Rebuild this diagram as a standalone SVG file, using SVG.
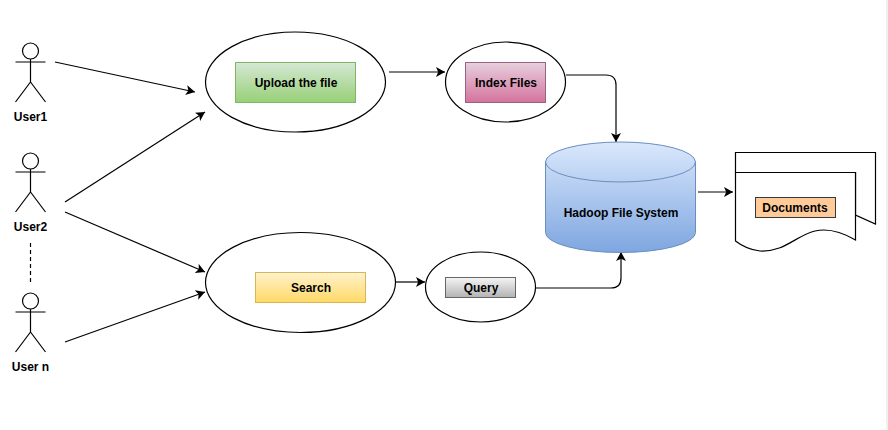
<svg xmlns="http://www.w3.org/2000/svg" width="888" height="430" viewBox="0 0 888 430">
<style>
text{font-family:"Liberation Sans",Arial,sans-serif;font-size:12px;font-weight:bold;fill:#000;text-anchor:middle;stroke:none}
.o{fill:#fff;stroke:#000;stroke-width:1.2}
.a{fill:none;stroke:#000;stroke-width:1.2;marker-end:url(#ah)}
.l{fill:none;stroke:#000;stroke-width:1.2}
</style>
<defs>
<marker id="ah" markerUnits="userSpaceOnUse" markerWidth="12" markerHeight="12" refX="9" refY="5.500" orient="auto"><path d="M0 0.500L9 5.500L0 10.500L2.200 5.500Z" fill="#000"/></marker>
<linearGradient id="g" x1="0" y1="0" x2="0" y2="1"><stop offset="0" stop-color="#d5e8d4"/><stop offset="1" stop-color="#97d077"/></linearGradient>
<linearGradient id="p" x1="0" y1="0" x2="0" y2="1"><stop offset="0" stop-color="#e6d0de"/><stop offset="1" stop-color="#d5739d"/></linearGradient>
<linearGradient id="y" x1="0" y1="0" x2="0" y2="1"><stop offset="0" stop-color="#fff2cc"/><stop offset="1" stop-color="#ffd966"/></linearGradient>
<linearGradient id="s" x1="0" y1="0" x2="0" y2="1"><stop offset="0" stop-color="#f5f5f5"/><stop offset="1" stop-color="#b3b3b3"/></linearGradient>
<linearGradient id="b" x1="0" y1="0" x2="0" y2="1"><stop offset="0" stop-color="#dae8fc"/><stop offset="1" stop-color="#7ea6e0"/></linearGradient>
<g id="actor"><circle cx="30.500" cy="0" r="8" class="o"/><path class="l" d="M30.500 8V31M15.500 11H45.500M30.500 31L15.500 51M30.500 31L45.500 51"/></g>
</defs>
<rect width="888" height="430" fill="#fff"/>
<rect x="886" width="2" height="430" fill="#f0f0f0"/>
<g id="connectors">
<path class="a" d="M55 62L195 92"/>
<path class="a" d="M65 202L205 112"/>
<path class="a" d="M65 212L205 272"/>
<path class="a" d="M65 342L205 292"/>
<path class="a" d="M389 72H445"/>
<path class="a" d="M566 75H606Q616 75 616 85V142"/>
<path class="a" d="M395 282H425"/>
<path class="a" d="M536 288H611Q621 288 621 278V252"/>
<path class="a" d="M698 192H733"/>
<path class="l" d="M30.500 243V283" stroke-dasharray="4 3"/>
</g>
<g id="user1"><use href="#actor" y="51"/><text x="30.500" y="121">User1</text></g>
<g id="user2"><use href="#actor" y="161"/><text x="30.500" y="231">User2</text></g>
<g id="usern"><use href="#actor" y="301"/><text x="30.500" y="371">User n</text></g>
<g id="upload"><ellipse class="o" cx="295.500" cy="82" rx="90" ry="50"/><rect x="235.500" y="62.500" width="120" height="40" fill="url(#g)" stroke="#82b366"/><text x="296" y="87">Upload the file</text></g>
<g id="index"><ellipse class="o" cx="505.500" cy="82" rx="60" ry="40"/><rect x="465.500" y="62.500" width="80" height="40" fill="url(#p)" stroke="#996185"/><text x="506" y="87">Index Files</text></g>
<g id="search"><ellipse class="o" cx="300.500" cy="282.500" rx="95" ry="50"/><rect x="255.500" y="272.500" width="110" height="30" fill="url(#y)" stroke="#d6b656"/><text x="311" y="292">Search</text></g>
<g id="query"><ellipse class="o" cx="480.500" cy="287" rx="55" ry="35"/><rect x="445.500" y="277.500" width="70" height="20" fill="url(#s)" stroke="#666"/><text x="481" y="292">Query</text></g>
<g id="hdfs"><path d="M545.500 162A75 20 0 0 1 695.500 162V232.500A75 20 0 0 1 545.500 232.500Z" fill="url(#b)" stroke="#6c8ebf"/><path d="M545.500 162A75 20 0 0 0 695.500 162" fill="none" stroke="#6c8ebf"/><text x="621" y="217">Hadoop File System</text></g>
<g id="documents"><path class="o" d="M735.500 152.500H875.500V224L855.500 215V172.500H735.500Z"/><path class="o" d="M735.500 172.500H855.500V240C840 231 828 228 815 231C795 236 785 252 760 251C750 250 742 246 735.500 241Z"/><rect x="755.500" y="197.500" width="80" height="20" fill="#ffcc99" stroke="#36393d"/><text x="795" y="212">Documents</text></g>
</svg>
